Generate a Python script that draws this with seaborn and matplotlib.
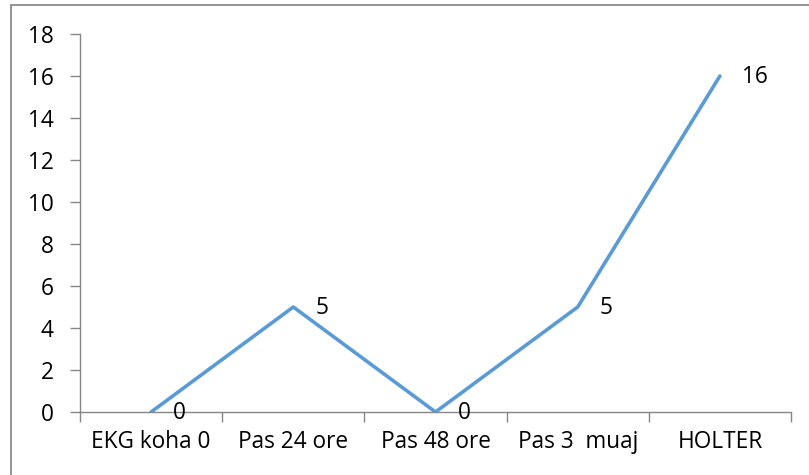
import matplotlib
matplotlib.use("Agg")
import matplotlib.pyplot as plt
import seaborn as sns
import pandas as pd
from matplotlib.lines import Line2D

categories = ["EKG koha 0", "Pas 24 ore", "Pas 48 ore", "Pas 3  muaj", "HOLTER"]
values = [0, 5, 0, 5, 16]
yticks = [0, 2, 4, 6, 8, 10, 12, 14, 16, 18]

sns.set_style("white")
plt.rcParams['font.family'] = ['Open Sans', 'DejaVu Sans']

FS = 16.3

df = pd.DataFrame({"cat": categories, "val": values})
fig = plt.figure(figsize=(8.09, 4.75), dpi=100)
ax = fig.add_axes([80/809, 1-412/475, (791-80)/809, (412-34)/475])

sns.lineplot(data=df, x="cat", y="val", ax=ax, color="#5B9BD5", linewidth=2.6,
             sort=False, solid_capstyle="round")

ax.set_xlim(-0.5, len(categories) - 0.5)
ax.set_ylim(0, 18)
ax.set_yticks(yticks)
ax.set_yticklabels([str(t) for t in yticks])
ax.set_xticks(range(len(categories)))
ax.set_xticklabels(categories)
ax.set_xlabel("")
ax.set_ylabel("")

# category boundary ticks
ax.set_xticks([i - 0.5 for i in range(len(categories) + 1)], minor=True)
ax.tick_params(axis="x", which="major", bottom=True, length=0, pad=13, labelsize=FS, colors="black")
ax.tick_params(axis="x", which="minor", bottom=True, length=7, width=1, color="#868686", direction="out")
ax.tick_params(axis="y", left=True, length=7, width=1, color="#868686", direction="out", pad=12,
               labelsize=FS, labelcolor="black")

for s in ["top", "right"]:
    ax.spines[s].set_visible(False)
for s in ["left", "bottom"]:
    ax.spines[s].set_color("#868686")
    ax.spines[s].set_linewidth(1)

for i, v in enumerate(values):
    ax.annotate(str(v), (i, v), xytext=(16, -1), textcoords="offset points",
                ha="left", va="center", fontsize=FS, color="black")

bx = 10.5/809
by = 1 - 5/475
fig.add_artist(Line2D([bx, bx], [0, by], transform=fig.transFigure, color="#8a8a8a",
                      linewidth=1.3, clip_on=False, zorder=10))
fig.add_artist(Line2D([bx, 1], [by, by], transform=fig.transFigure, color="#8a8a8a",
                      linewidth=1.3, clip_on=False, zorder=10))

fig.savefig("out.png", dpi=100)
